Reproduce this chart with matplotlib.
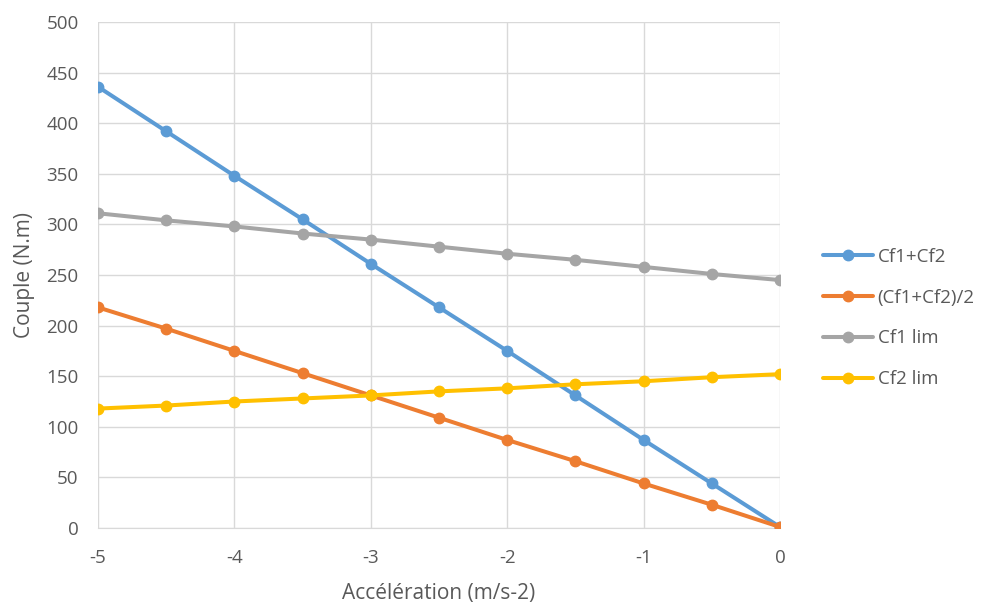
import matplotlib
matplotlib.use('agg')
import matplotlib.pyplot as plt

# data
accel = [-5, -4.5, -4, -3.5, -3, -2.5, -2, -1.5, -1, -0.5, 0]
cf_sum = [436, 392, 348, 305, 261, 218, 175, 131, 87, 44, 1]
cf_half = [218, 197, 175, 153, 131, 109, 87, 66, 44, 23, 1]
cf1_lim = [311, 304, 298, 291, 285, 278, 271, 265, 258, 251, 245]
cf2_lim = [118, 121, 125, 128, 131, 135, 138, 142, 145, 149, 152]
labels = ['Cf1+Cf2', '(Cf1+Cf2)/2', 'Cf1 lim', 'Cf2 lim']
colors = ['#5B9BD5', '#ED7D31', '#A5A5A5', '#FFC000']

plt.rcParams['font.family'] = ['Open Sans', 'DejaVu Sans']
plt.rcParams['axes.unicode_minus'] = False
txt = '#595959'

fig = plt.figure(figsize=(9.98, 6.05), dpi=100)
ax = fig.add_axes([98 / 998, 1 - 528 / 605, (780 - 98) / 998, (528 - 22) / 605])

for ys, lab, c in zip([cf_sum, cf_half, cf1_lim, cf2_lim], labels, colors):
    ax.plot(accel, ys, color=c, lw=2.9, marker='o', ms=7.5, label=lab, zorder=3,
            solid_capstyle='round')

ax.set_xlim(-5, 0)
ax.set_ylim(0, 500)
ax.set_xticks(range(-5, 1))
ax.set_yticks(range(0, 501, 50))
ax.grid(True, color='#d9d9d9', lw=1)
ax.set_axisbelow(True)
for s in ['top', 'right', 'left']:
    ax.spines[s].set_visible(False)
ax.spines['bottom'].set_color('#d9d9d9')
ax.tick_params(length=0, labelsize=13.5, labelcolor=txt)
ax.tick_params(axis='x', pad=15)
ax.tick_params(axis='y', pad=14)

ax.set_xlabel('Accélération (m/s-2)', fontsize=15, color=txt, labelpad=12)
ax.set_ylabel('Couple (N.m)', fontsize=15, color=txt, labelpad=8)

fig.legend(*ax.get_legend_handles_labels(), loc='center left',
           bbox_to_anchor=(806 / 998, 1 - 318 / 605), frameon=False,
           fontsize=13.5, labelcolor=txt, handlelength=2.67, labelspacing=1.22,
           handletextpad=0.25)

fig.savefig('out.png', dpi=100)
